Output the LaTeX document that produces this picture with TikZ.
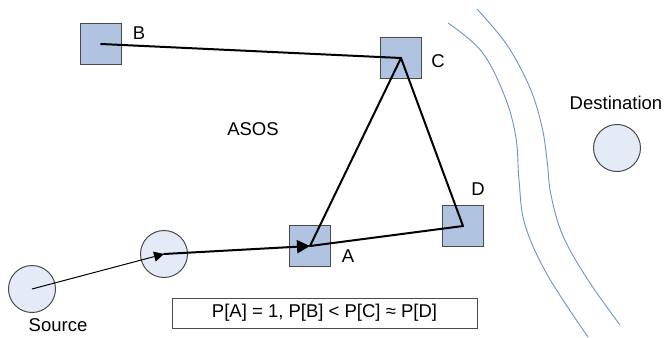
\documentclass[tikz,border=0pt]{standalone}
\usepackage{fontspec}
\setmainfont{Liberation Sans}
\usetikzlibrary{arrows.meta}
\definecolor{sqfill}{HTML}{B0C4E2}
\definecolor{cifill}{HTML}{E4EBF7}
\definecolor{edgegray}{HTML}{4A4A4A}
\definecolor{curveblue}{HTML}{6A93D2}
\tikzset{
  sensor/.style={draw=edgegray, line width=1.3pt, fill=sqfill, minimum size=41pt, inner sep=0pt},
  hop/.style={draw=edgegray, line width=1pt, fill=cifill, circle, minimum size=47pt, inner sep=0pt},
  lbl/.style={font=\fontsize{18.5}{21}\selectfont, inner sep=0pt},
  link/.style={line width=2pt, line cap=round, line join=round},
  boundary/.style={draw=curveblue, line width=0.9pt}
}
\begin{document}
\begin{tikzpicture}[x=1pt, y=-1pt]
  \useasboundingbox (0,0) rectangle (668,337);
  \fill[white] (0,0) rectangle (668,337);

  % region boundary
  \draw[boundary] plot[smooth, tension=0.6] coordinates
    {(477,9) (507,45) (530,88) (542,127) (547,160) (551,195) (563,236) (588,280) (620,325)};
  \draw[boundary] plot[smooth, tension=0.6] coordinates
    {(448,23) (482,52) (505,97) (516,138) (519,180) (525,225) (548,276) (588,337)};

  % nodes
  \node[hop] (src) at (32,289) {};
  \node[hop] (relay) at (164,254) {};
  \node[hop] (dst) at (617,148) {};
  \node[sensor] (B) at (101,44) {};
  \node[sensor] (C) at (401,58) {};
  \node[sensor] (A) at (310,246) {};
  \node[sensor] (D) at (463,226) {};

  % labels
  \node[lbl] (lB) at (139,33) {B};
  \node[lbl] (lC) at (438,61) {C};
  \node[lbl] (lA) at (348,256) {A};
  \node[lbl] (lD) at (478,189) {D};
  \node[lbl] (lasos) at (253,129) {ASOS};
  \node[lbl] (lsrc) at (58,325) {Source};
  \node[lbl] (ldst) at (616,103) {Destination};
  \node[draw=edgegray, line width=1pt, minimum width=305pt, minimum height=30pt,
        font=\fontsize{18.5}{21}\selectfont] (prob) at (324.5,313) {P[A] = 1, P[B] < P[C] ≈ P[D]};

  % routes
  \draw[line width=1pt, -{Triangle[length=10pt, width=10pt]}] (src.center) -- (relay.center);
  \draw[link, -{Triangle[length=13pt, width=13pt]}] (relay.center) -- (A.center);
  \draw[link] (A.center) -- (C.center) -- (D.center) -- (A.center);
  \draw[link] (B.center) -- (C.center);
\end{tikzpicture}
\end{document}
